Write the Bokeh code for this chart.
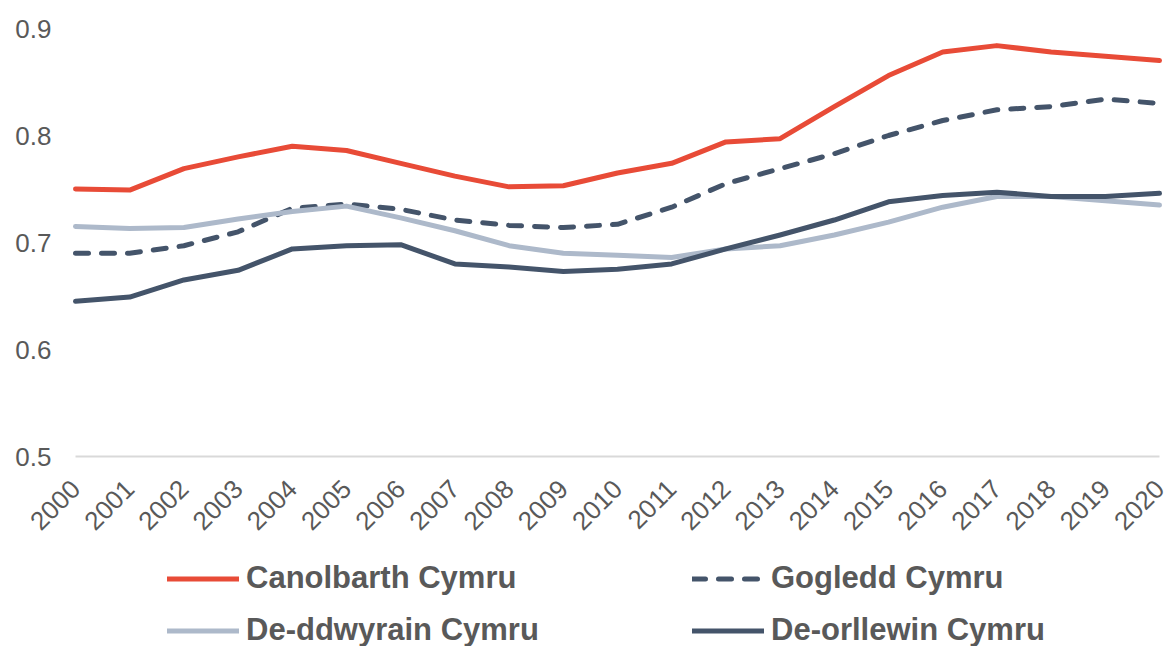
import math
from bokeh.plotting import figure
from bokeh.models import Legend, LegendItem, FixedTicker, Range1d, LinearAxis
from bokeh.embed import file_html
from bokeh.resources import INLINE

# ---- data ----
years = list(range(2000, 2021))
year_labels = [str(y) for y in years]
y_ticks = [0.5, 0.6, 0.7, 0.8, 0.9]
y_tick_labels = ["0.5", "0.6", "0.7", "0.8", "0.9"]

series_names = ["Canolbarth Cymru", "Gogledd Cymru", "De-ddwyrain Cymru", "De-orllewin Cymru"]
canolbarth = [0.750, 0.749, 0.769, 0.780, 0.790, 0.786, 0.774, 0.762, 0.752, 0.753,
              0.765, 0.774, 0.794, 0.797, 0.827, 0.856, 0.878, 0.884, 0.878, 0.874, 0.870]
gogledd = [0.690, 0.690, 0.697, 0.710, 0.732, 0.736, 0.731, 0.721, 0.716, 0.714,
           0.717, 0.733, 0.755, 0.769, 0.783, 0.800, 0.814, 0.824, 0.827, 0.834, 0.830]
de_ddwyrain = [0.715, 0.713, 0.714, 0.722, 0.729, 0.734, 0.723, 0.711, 0.697, 0.690,
               0.688, 0.686, 0.694, 0.697, 0.707, 0.719, 0.733, 0.743, 0.743, 0.739, 0.735]
de_orllewin = [0.645, 0.649, 0.665, 0.674, 0.694, 0.697, 0.698, 0.680, 0.677, 0.673,
               0.675, 0.680, 0.694, 0.707, 0.721, 0.738, 0.744, 0.747, 0.743, 0.743, 0.746]

# ---- styles / layout ----
RED = "#E84B37"
NAVY = "#44546A"
LIGHT = "#ADB9CA"
TEXT = "#595959"
FONT = "Liberation Sans"

W, H = 1171, 646
X0_PX, X1_PX = 75, 1159      # pixel positions of first / last year
Y_TOP_PX, Y_BOT_PX = 28, 456 # pixel positions of 0.9 / 0.5
X_MIN, X_MAX = years[0], years[-1]
Y_MIN, Y_MAX = y_ticks[0], y_ticks[-1]
px_per_x = (X1_PX - X0_PX) / (X_MAX - X_MIN)
px_per_y = (Y_BOT_PX - Y_TOP_PX) / (Y_MAX - Y_MIN)
x_start = X_MIN - X0_PX / px_per_x
x_end = X_MAX + (W - X1_PX) / px_per_x
y_end = Y_MAX + Y_TOP_PX / px_per_y
y_start = Y_MIN - (H - Y_BOT_PX) / px_per_y

p = figure(frame_width=W, frame_height=H, output_backend="svg", toolbar_location=None,
           x_range=Range1d(x_start, x_end), y_range=Range1d(y_start, y_end),
           x_axis_location=None, y_axis_location=None,
           min_border_left=0, min_border_right=0, min_border_top=0, min_border_bottom=0)
p.outline_line_color = None
p.xgrid.visible = False
p.ygrid.visible = False
p.background_fill_color = "white"
p.border_fill_color = "white"

r1 = p.line(years, canolbarth, line_color=RED, line_width=5, line_cap="round", line_join="round")
r2 = p.line(years, gogledd, line_color=NAVY, line_width=5, line_cap="round", line_join="round",
            line_dash="13 13")
r3 = p.line(years, de_ddwyrain, line_color=LIGHT, line_width=5, line_cap="round", line_join="round")
r4 = p.line(years, de_orllewin, line_color=NAVY, line_width=5, line_cap="round", line_join="round")

# x axis, fixed at y = 0.5
xa = LinearAxis(fixed_location=Y_MIN, bounds=(X_MIN, X_MAX))
xa.ticker = FixedTicker(ticks=years)
xa.major_label_overrides = {y: l for y, l in zip(years, year_labels)}
xa.major_label_orientation = math.pi / 4
xa.axis_line_color = "#D9D9D9"
xa.axis_line_width = 2
xa.major_tick_line_color = None
xa.minor_tick_line_color = None
xa.major_tick_out = 0
xa.major_label_standoff = 28
xa.major_label_text_font = FONT
xa.major_label_text_font_size = "26px"
xa.major_label_text_color = TEXT
p.add_layout(xa, "below")

# y axis, fixed at x = 2000
ya = LinearAxis(fixed_location=X_MIN, bounds=(Y_MIN, Y_MAX))
ya.ticker = FixedTicker(ticks=y_ticks)
ya.major_label_overrides = {t: l for t, l in zip(y_ticks, y_tick_labels)}
ya.axis_line_color = None
ya.major_tick_line_color = None
ya.minor_tick_line_color = None
ya.major_tick_out = 0
ya.major_label_standoff = 24
ya.major_label_text_font = FONT
ya.major_label_text_font_size = "26px"
ya.major_label_text_color = TEXT
p.add_layout(ya, "left")

def make_legend(items, loc):
    return Legend(items=items, location=loc, orientation="vertical",
                  border_line_color=None, background_fill_alpha=0,
                  padding=0, margin=0, spacing=16,
                  glyph_width=72, glyph_height=35, label_height=35, label_standoff=7,
                  label_text_font=FONT, label_text_font_style="bold",
                  label_text_font_size="31px", label_text_color=TEXT)

leg1 = make_legend([LegendItem(label=series_names[0], renderers=[r1]),
                    LegendItem(label=series_names[2], renderers=[r3])], (167, -2))
leg2 = make_legend([LegendItem(label=series_names[1], renderers=[r2]),
                    LegendItem(label=series_names[3], renderers=[r4])], (692, -2))
p.add_layout(leg1, "center")
p.add_layout(leg2, "center")

open("out.html", "w").write(file_html(p, INLINE))
